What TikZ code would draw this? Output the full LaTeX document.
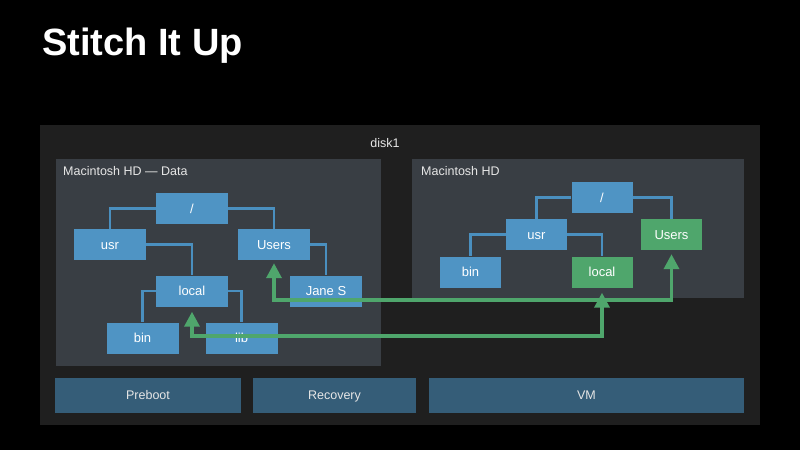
\documentclass[tikz,border=0pt]{standalone}
\usepackage{fontspec}
\setmainfont{Liberation Sans}
\usetikzlibrary{arrows.meta}
\definecolor{bg}{HTML}{000000}
\definecolor{diskc}{HTML}{1F1F1F}
\definecolor{panelc}{HTML}{393E44}
\definecolor{nodeblue}{HTML}{4F94C4}
\definecolor{nodegreen}{HTML}{4FA66C}
\definecolor{linkblue}{HTML}{4A8FBF}
\definecolor{volc}{HTML}{355D78}
\definecolor{txtc}{HTML}{E6E6E6}
\tikzset{
  fbox/.style={fill=nodeblue, draw=none, text=white, font=\fontsize{13}{15}\selectfont, inner sep=0pt, text height=10.5pt, text depth=1.3pt, minimum width=72pt, minimum height=31pt},
  fboxs/.style={fbox, minimum width=61pt},
  gbox/.style={fboxs, fill=nodegreen},
  link/.style={draw=linkblue, line width=2.2pt},
  garrow/.style={draw=nodegreen, line width=3.5pt, {Triangle[width=15pt,length=15pt]}-{Triangle[width=15pt,length=15pt]}},
  volbox/.style={fill=volc, text=txtc, font=\fontsize{12.5}{14}\selectfont, inner sep=0pt, text height=10pt, text depth=1pt, minimum height=35pt},
  lbl/.style={text=txtc, font=\fontsize{12.5}{14}\selectfont, inner sep=0pt, anchor=west}
}
\begin{document}
\begin{tikzpicture}[x=1pt,y=-1pt]
\useasboundingbox (0,0) rectangle (800,450);
\fill[bg] (0,0) rectangle (800,450);
\node[anchor=base west, text=white, inner sep=0pt, font=\fontsize{38}{40}\selectfont\bfseries] (title) at (42,55) {Stitch It Up};
% disk1
\fill[diskc] (40,125) rectangle (760,425);
\node[text=txtc, font=\fontsize{12.5}{14}\selectfont] (disk) at (385,143) {disk1};
% panels
\fill[panelc] (56,159) rectangle (381,366);
\node[lbl] (dataLbl) at (63,171) {Macintosh HD — Data};
\fill[panelc] (412,159) rectangle (744,298);
\node[lbl] (hdLbl) at (421,171) {Macintosh HD};
% left tree
\node[fbox] (rootL) at (192,208.5) {/};
\node[fbox] (usrL) at (110,244.5) {usr};
\node[fbox] (usersL) at (274,244.5) {Users};
\node[fbox] (localL) at (192,291) {local};
\node[fbox] (janeL) at (326,291) {Jane S};
\node[fbox] (binL) at (142.5,338) {bin};
\node[fbox] (libL) at (241.5,338) {lib};
\draw[link] (rootL.west) -| (usrL.north);
\draw[link] (rootL.east) -| (usersL.north);
\draw[link] (usrL.east) -| (localL.north);
\draw[link] (usersL.east) -| (janeL.north);
\draw[link] (localL.west) -| (binL.north);
\draw[link] (localL.east) -| (libL.north);
% right tree
\node[fboxs] (rootR) at (602,197.5) {/};
\node[fboxs] (usrR) at (536.5,234.5) {usr};
\node[gbox] (usersR) at (671.5,234.5) {Users};
\node[fboxs] (binR) at (470.5,272) {bin};
\node[gbox] (localR) at (602,272) {local};
\draw[link] (rootR.west) -| (usrR.north);
\draw[link] (rootR.east) -| (usersR.north);
\draw[link] (usrR.west) -| (binR.north);
\draw[link] (usrR.east) -| (localR.north);
% green arrows
\coordinate (h1) at (0,300);
\coordinate (h2) at (0,336);
\draw[garrow] ([yshift=-3pt]usersL.south) -- (usersL.south |- h1) -| ([yshift=-4pt]usersR.south);
\draw[garrow] ([yshift=-5pt]localL.south) -- (localL.south |- h2) -| ([yshift=-5pt]localR.south);
% volumes
\node[volbox, minimum width=186pt] (preboot) at (148,395) {Preboot};
\node[volbox, minimum width=163pt] (recovery) at (334.5,395) {Recovery};
\node[volbox, minimum width=315pt] (vm) at (586.5,395) {VM};
\end{tikzpicture}
\end{document}
